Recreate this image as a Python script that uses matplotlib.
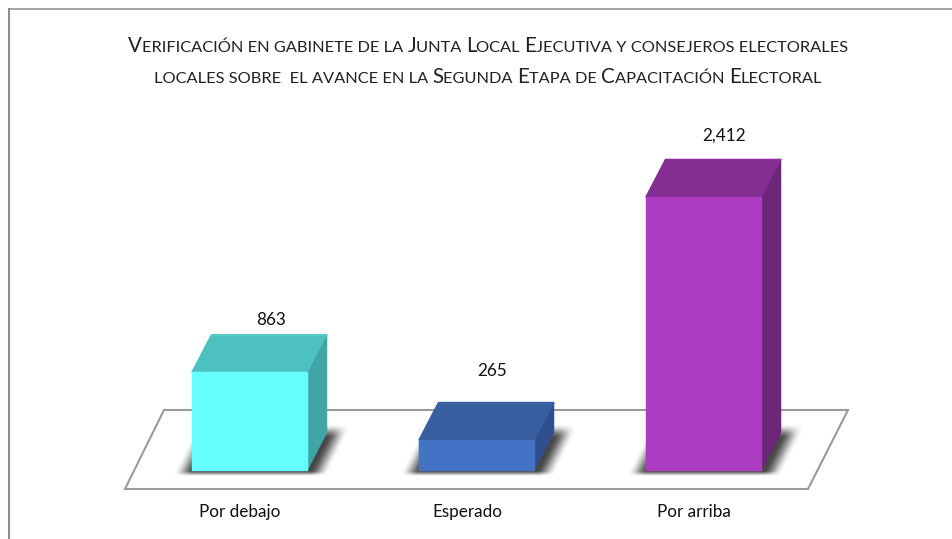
import numpy as np
import matplotlib
matplotlib.use("Agg")
import matplotlib.pyplot as plt
from matplotlib.patches import Polygon

categories = ["Por debajo", "Esperado", "Por arriba"]
values = [863, 265, 2412]
value_labels = ["863", "265", "2,412"]
title_lines = [
    "Verificación en gabinete de la Junta Local Ejecutiva y consejeros electorales",
    "locales sobre  el avance en la Segunda Etapa de Capacitación Electoral",
]

W, H = 953, 539
PX_X = 227.0          # pixels per category
PX_Y = 0.1132         # pixels per value unit
X0, Y0 = 249.5, 470   # pixel position of category 0 / value 0
FONT = "Lato"

front = ["#66FFFF", "#4472C4", "#AB3CBF"]
top = ["#4DC1C1", "#3A5FA0", "#842D92"]
side = ["#40A5A5", "#2F4F8E", "#6B2579"]
bevel = ["#58D8D8", "#4069B4", "#9434A6"]

fig = plt.figure(figsize=(W / 100, H / 100), dpi=100, facecolor="white")
ax = fig.add_axes([0, 0, 1, 1])
ax.set_xlim(-X0 / PX_X, (W - X0) / PX_X)
ax.set_ylim(-(H - Y0) / PX_Y, Y0 / PX_Y)
ax.axis("off")


def dx(px):
    return px / PX_X


def dy(px):
    return px / PX_Y


# outer frame (top and left only are visible)
frame_c = "#8c8c8c"
ax.plot([dx(9 - X0), dx(9 - X0)], [dy(Y0 - H), dy(Y0 - 8)], color=frame_c, lw=1.5, zorder=1,
        solid_capstyle="butt")
ax.plot([dx(8 - X0), dx(W - X0)], [dy(Y0 - 8.5), dy(Y0 - 8.5)], color=frame_c, lw=1.1, zorder=1,
        solid_capstyle="butt")

# floor
floor = [(125, 489), (808, 489), (848, 410), (164, 410)]
ax.add_patch(Polygon([(dx(x - X0), dy(Y0 - y)) for x, y in floor], closed=True,
                     fill=False, ec="#9a9a9a", lw=1.5, zorder=1, joinstyle="miter"))

# soft shadows
BAR_W = 0.507
DEPTH_X, DEPTH_Y = 19.5, 37.5
yy, xx = np.mgrid[0:H, 0:W]
alpha = np.zeros((H, W))


def ramp(t):
    t = np.clip(t, 0, 1)
    return t * t * (3 - 2 * t)


for i in range(len(values)):
    cx = X0 + i * PX_X
    shear = (473 - yy) * 0.5
    u = xx - shear
    left = cx - 77
    right = cx + 57.5 + 21
    a = ramp((u - left) / 20) * ramp((right - u) / 20) \
        * ramp((yy - 423) / 15) * ramp((476 - yy) / 6)
    alpha = np.maximum(alpha, a * 0.85)
rgba = np.zeros((H, W, 4))
rgba[..., :3] = 0.15
rgba[..., 3] = alpha
ax.imshow(rgba, extent=ax.get_xlim() + ax.get_ylim(), origin="upper",
          aspect="auto", interpolation="bilinear", zorder=2)

# bars
for i, v in enumerate(values):
    l, r = i - BAR_W / 2, i + BAR_W / 2
    ox, oy = dx(DEPTH_X), dy(DEPTH_Y)
    kw = dict(closed=True, lw=1.0, joinstyle="round", zorder=3)
    ax.add_patch(Polygon([(r, 0), (r + ox, oy), (r + ox, v + oy), (r, v)],
                         fc=side[i], ec=side[i], **kw))
    ax.add_patch(Polygon([(l, v), (r, v), (r + ox, v + oy), (l + ox, v + oy)],
                         fc=top[i], ec=top[i], **kw))
    ax.add_patch(Polygon([(l, 0), (r, 0), (r, v), (l, v)],
                         fc=front[i], ec=front[i], **kw))
    # bevelled edge along the back of the top face
    ax.plot([l + ox, r + ox], [v + oy, v + oy], color=bevel[i], lw=0.9,
            alpha=0.6, zorder=4, solid_capstyle="round")

# value labels
offsets = [(22, 15), (16, 32), (21, 24)]
for i, v in enumerate(values):
    ax.annotate(value_labels[i], (i, v + dy(DEPTH_Y)),
                xytext=offsets[i], textcoords="offset pixels",
                ha="center", va="center", fontsize=12.3, family=FONT, color="#111111", zorder=5)

# category labels
for i, c in enumerate(categories):
    ax.text(i - dx(9.5), dy(Y0 - 512), c, ha="center", va="center",
            fontsize=12.3, family=FONT, color="#111111", zorder=5)

# small-caps title, drawn run by run
fig.canvas.draw()
rend = fig.canvas.get_renderer()
BIG, SMALL = 14.8, 11.8


def runs(s):
    out = []
    for ch in s:
        big = ch.isupper()
        if out and out[-1][1] == big:
            out[-1][0] += ch
        else:
            out.append([ch, big])
    return out


for line, py in zip(title_lines, (45, 76)):
    pieces = []
    total = 0
    for txt, big in runs(line):
        t = ax.text(0, 0, txt.upper().replace(" ", "\u00a0"), fontsize=BIG if big else SMALL, family=FONT,
                    color="#222222", ha="left", va="baseline", zorder=5)
        w = t.get_window_extent(rend).width
        pieces.append((t, w))
        total += w
    x = 488 - total / 2
    for t, w in pieces:
        t.set_position((dx(x - X0), dy(Y0 - (py + 7))))
        x += w

fig.savefig("out.png", dpi=100, facecolor="white")
